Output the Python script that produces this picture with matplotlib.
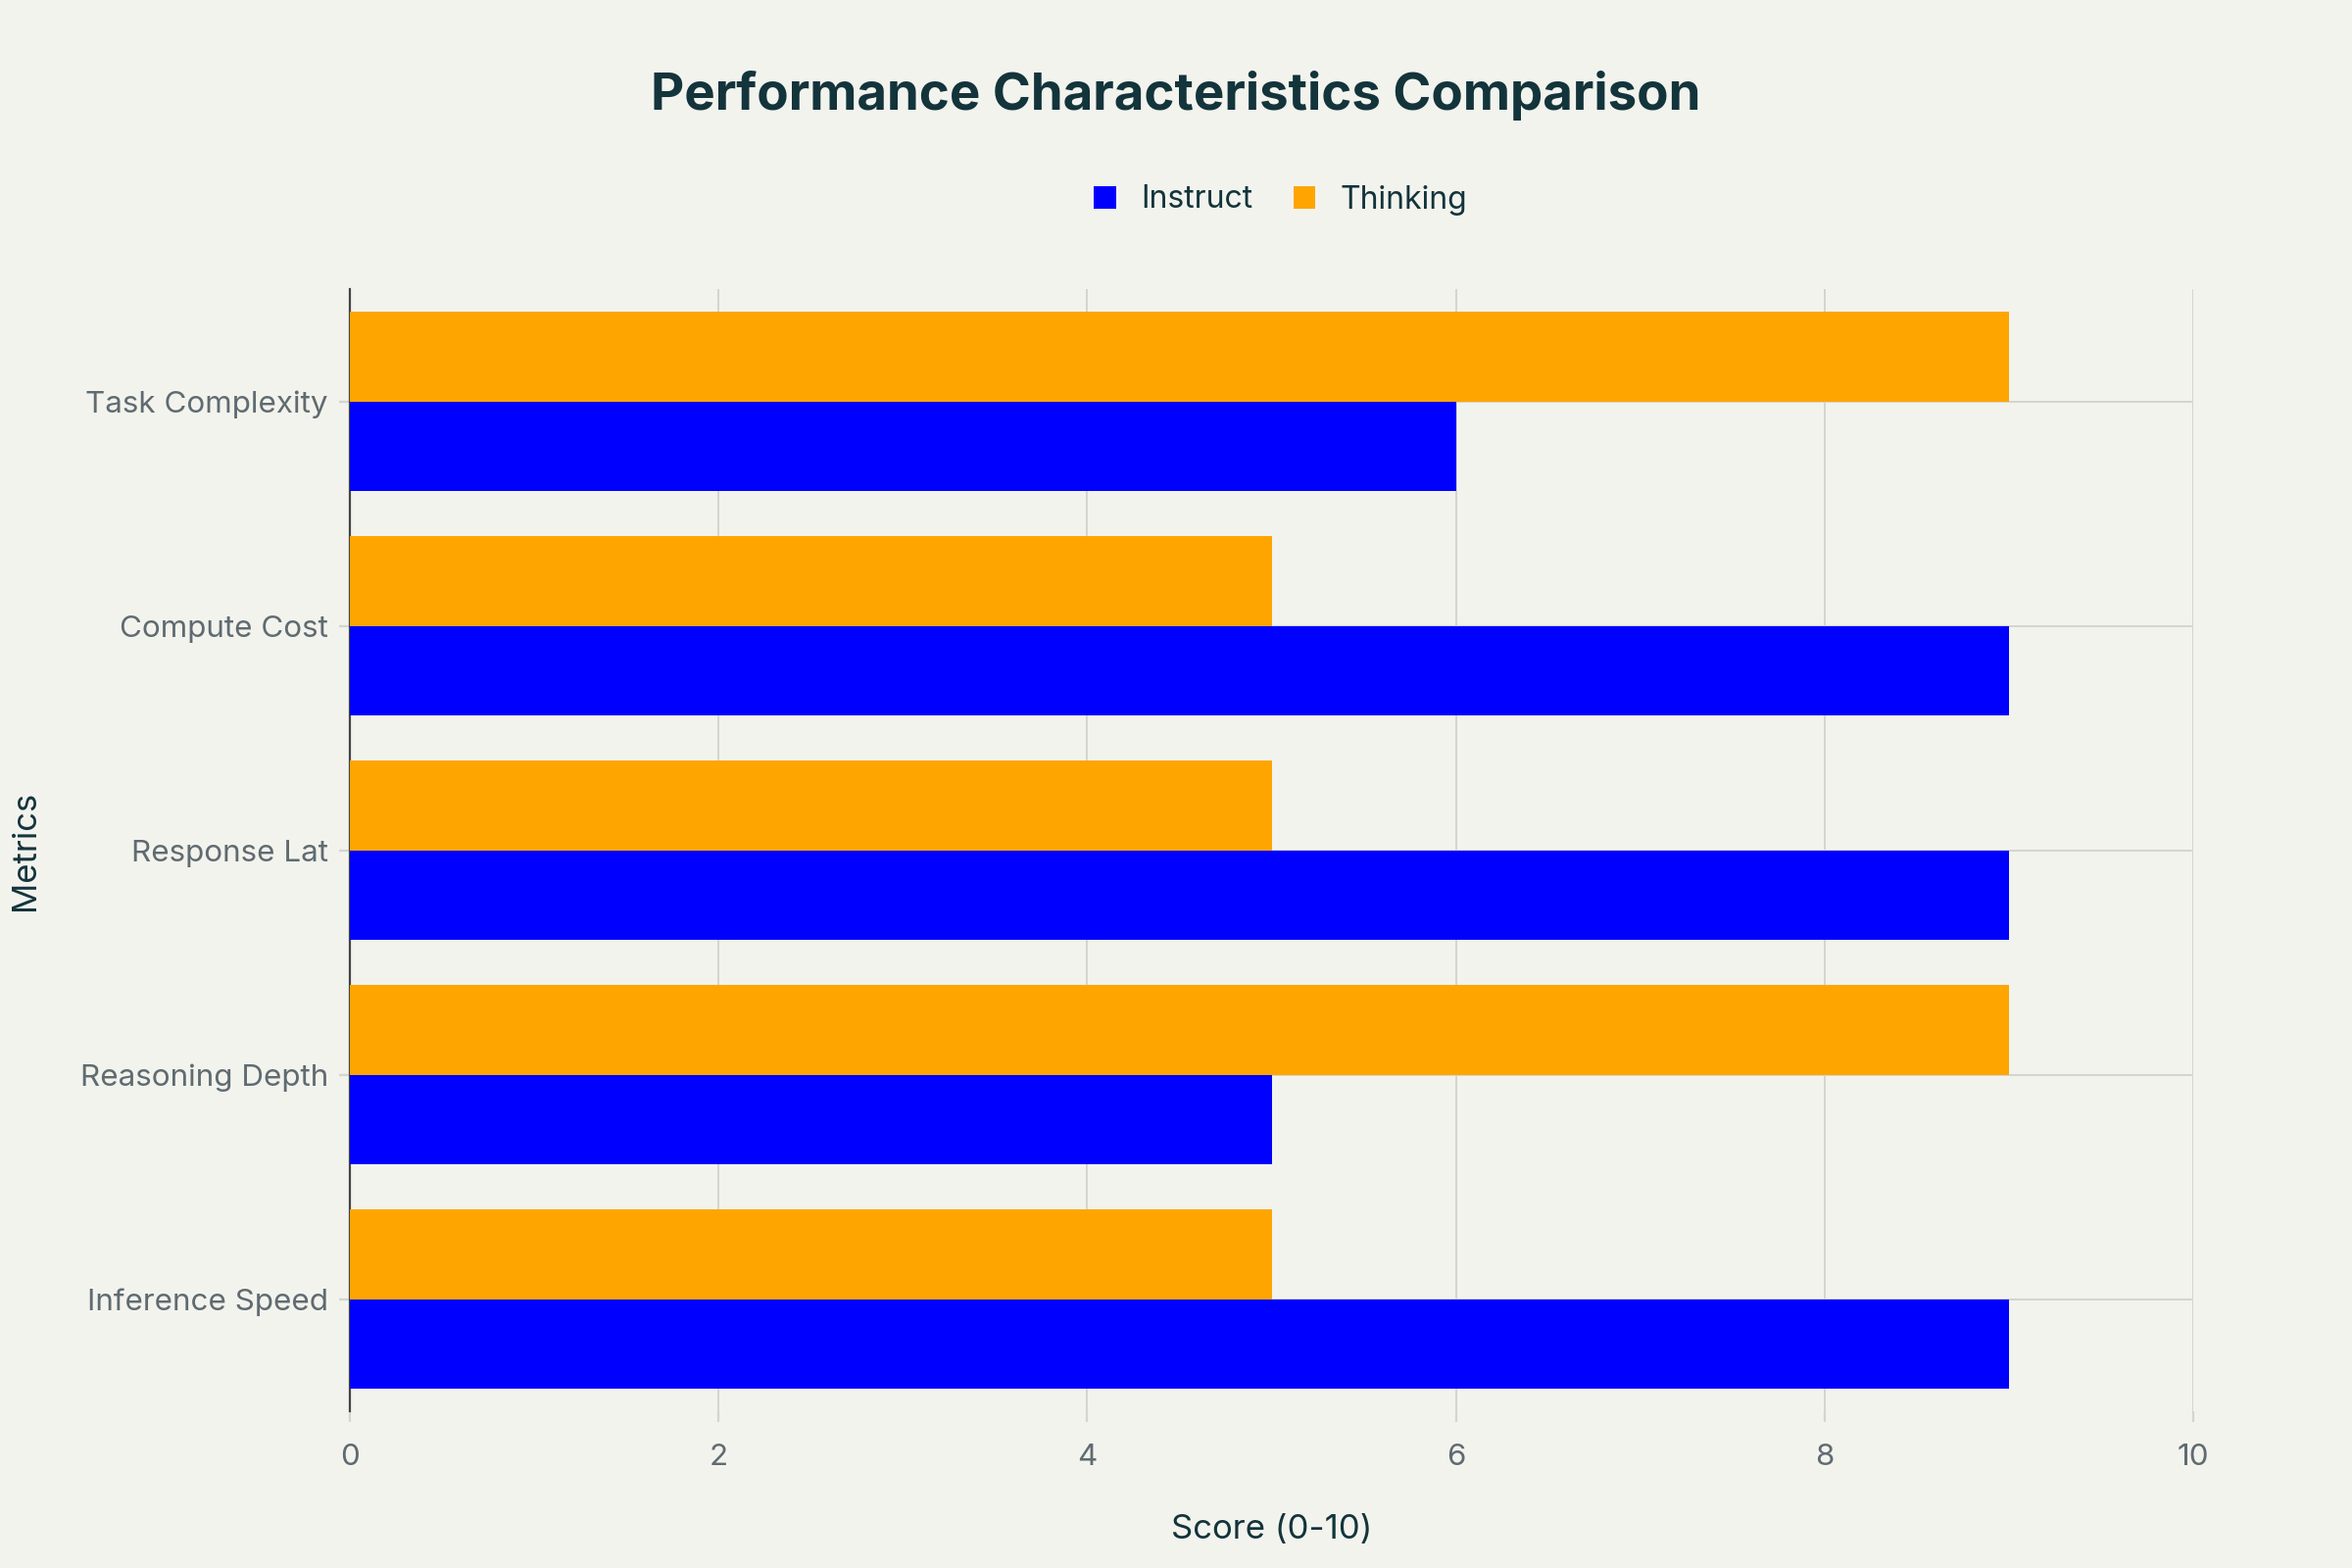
import matplotlib.pyplot as plt
import numpy as np

plt.rcParams['font.family'] = ['Inter', 'DejaVu Sans']

metrics = ['Inference Speed', 'Reasoning Depth', 'Response Lat', 'Compute Cost', 'Task Complexity']
instruct = [9, 5, 9, 9, 6]
thinking = [5, 9, 5, 5, 9]
x_ticks = [0, 2, 4, 6, 8, 10]

bg = '#F3F3EE'
dark = '#13343B'
grey = '#5F6B70'
grid = '#D5D5D0'

fig = plt.figure(figsize=(12, 8), dpi=200, facecolor=bg)
ax = fig.add_axes([0.1488, 0.1, 0.7837, 0.7156], facecolor=bg)

y = np.arange(len(metrics))
h = 0.4
ax.barh(y - h / 2, instruct, height=h, color='#0000FF', label='Instruct', zorder=3)
ax.barh(y + h / 2, thinking, height=h, color='#FFA500', label='Thinking', zorder=3)

ax.set_xlim(0, 10)
ax.set_ylim(-0.5, len(metrics) - 0.5)
ax.set_xticks(x_ticks)
ax.set_yticks(y)
ax.set_yticklabels(metrics)
ax.grid(True, color=grid, lw=0.7, zorder=0)

for s in ['top', 'right', 'bottom']:
    ax.spines[s].set_visible(False)
ax.spines['left'].set_color('#444444')
ax.spines['left'].set_linewidth(0.8)

ax.tick_params(axis='both', colors=grid, labelcolor=grey, labelsize=11.3,
               length=4, width=0.8)
ax.tick_params(axis='x', pad=8)
ax.tick_params(axis='y', pad=4)

ax.set_xlabel('Score (0-10)', fontsize=12.5, color=dark)
ax.set_ylabel('Metrics', fontsize=12.5, color=dark)
ax.xaxis.set_label_coords(0.5, -0.106)
ax.yaxis.set_label_coords(-0.176, 0.5)
ax.xaxis.label.set_va('center')
ax.yaxis.label.set_va('center')

fig.text(0.5, 0.939, 'Performance Characteristics Comparison', ha='center', va='center',
         fontsize=19, fontweight='bold', color=dark)

handles, labels = ax.get_legend_handles_labels()
fig.legend(handles, labels, loc='center', bbox_to_anchor=(0.5446, 0.8725),
           ncol=2, frameon=False, fontsize=11.5, labelcolor=dark,
           handlelength=0.7, handleheight=0.7, handletextpad=0.8, columnspacing=1.3)

fig.savefig('out.png', dpi=200, facecolor=bg)
